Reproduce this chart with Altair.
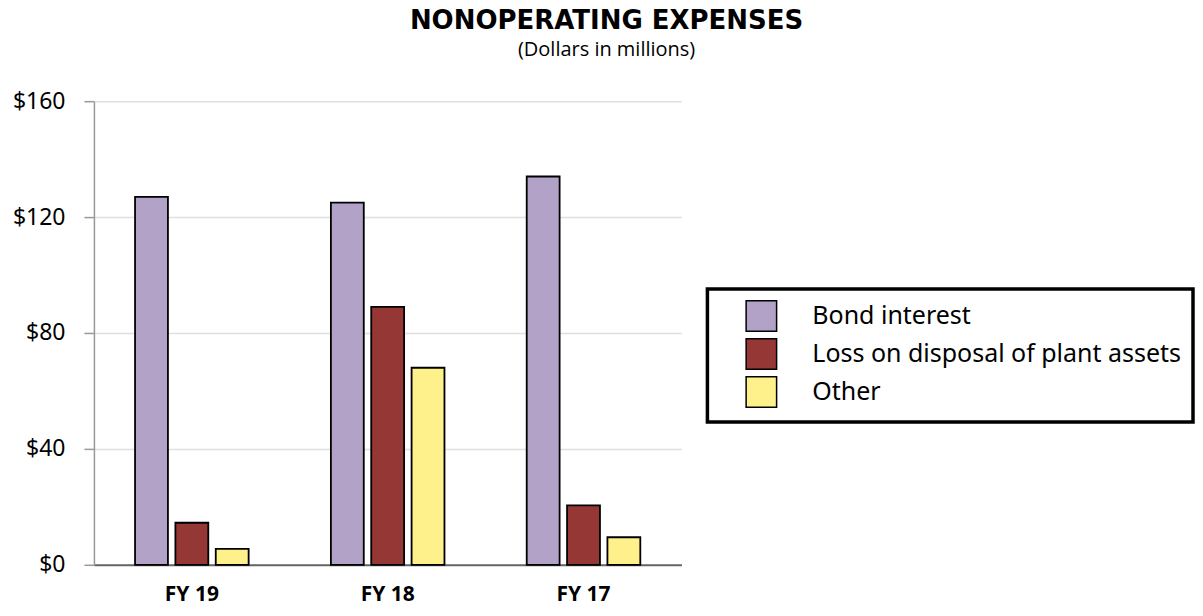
import altair as alt
import pandas as pd

years = ["FY 19", "FY 18", "FY 17"]
series = ["Bond interest", "Loss on disposal of plant assets", "Other"]
bond_interest = [127, 125, 134]
loss_on_disposal = [14.5, 89, 20.5]
other = [5.5, 68, 9.5]
colors = ["#B3A2C7", "#953735", "#FEF08A"]

rows = []
for i, y in enumerate(years):
    for s, vals in zip(series, [bond_interest, loss_on_disposal, other]):
        rows.append({"year": y, "series": s, "value": vals[i]})
df = pd.DataFrame(rows)

bars = alt.Chart(df).mark_bar(stroke="black", strokeWidth=1.8).encode(
    x=alt.X("year:N", sort=years, title=None,
            scale=alt.Scale(paddingInner=0.42, paddingOuter=0.21),
            axis=alt.Axis(labelAngle=0, labelFont="Noto Sans", labelFontWeight="bold",
                          labelFontSize=21, labelColor="black", labelPadding=19,
                          ticks=False, domain=True, domainColor="#666666", domainWidth=2)),
    xOffset=alt.XOffset("series:N", sort=series,
                        scale=alt.Scale(paddingInner=0.185, paddingOuter=0)),
    y=alt.Y("value:Q", title=None,
            scale=alt.Scale(domain=[0, 160]),
            axis=alt.Axis(values=[0, 40, 80, 120, 160], labelExpr="'$' + datum.value",
                          labelFont="Noto Sans", labelFontSize=23, labelColor="black",
                          labelPadding=19, tickSize=10, tickColor="#999999", tickWidth=1.5,
                          domainColor="#999999", domainWidth=1.5,
                          grid=True, gridColor="#e0e0e0", gridWidth=1.5)),
    color=alt.Color("series:N", sort=series,
                    scale=alt.Scale(domain=series, range=colors),
                    legend=alt.Legend(title=None, orient="none", legendX=614, legendY=188,
                                      symbolType="square", symbolSize=930,
                                      symbolStrokeColor="black", symbolStrokeWidth=1.5,
                                      symbolOffset=27, labelOffset=35,
                                      labelFont="Noto Sans", labelFontSize=25,
                                      labelColor="black", labelLimit=600,
                                      rowPadding=0, padding=11,
                                      strokeColor="black",
                                      fillColor="white")),
)

chart = bars.properties(
    width=588, height=464,
    padding={"left": 4, "top": 0, "right": 0, "bottom": 5},
    title=alt.TitleParams(
        "NONOPERATING EXPENSES",
        subtitle="(Dollars in millions)",
        font="DejaVu Sans", fontSize=26, fontWeight="bold", color="black",
        subtitleFont="Open Sans", subtitleFontSize=20, subtitleColor="black",
        subtitlePadding=6, anchor="middle", frame="bounds", offset=30, dx=3,
    ),
).configure_view(stroke=None).configure_legend(strokeWidth=3.5)

chart.save("out.html", embed_options={"renderer": "svg", "actions": False})
